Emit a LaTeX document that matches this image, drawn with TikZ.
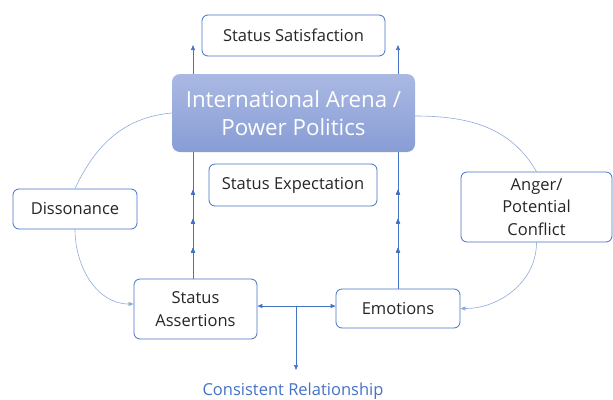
\documentclass[tikz,border=0pt]{standalone}
\usepackage{fontspec}
\setmainfont{Open Sans}
\usetikzlibrary{arrows.meta,decorations.markings}

\definecolor{edgeblue}{HTML}{4472C4}
\definecolor{curveblue}{HTML}{8FAADC}
\definecolor{arenatop}{HTML}{AAB9E3}
\definecolor{arenabot}{HTML}{889DD5}
\definecolor{txt}{HTML}{262626}

\begin{document}
\begin{tikzpicture}
          [x=1pt,y=-1pt,
           box/.style={draw=edgeblue,line width=0.8pt,rounded corners=6pt,fill=white,
             align=center,text=txt,font=\fontsize{16.5}{22.5}\selectfont,inner sep=2pt},
           link/.style={edgeblue,line width=0.6pt,-{Triangle[length=5pt,width=4pt]}},
           curve/.style={curveblue,line width=0.6pt},
           tip/.style={-{Triangle[length=5pt,width=4pt]}},
           midtips/.style={postaction={decorate},decoration={markings,
             mark=at position #1 with {\arrow{Triangle[length=5pt,width=4pt]}}}}]

          \useasboundingbox (0,0) rectangle (613,399);

          \node[box,minimum width=183pt,minimum height=41pt] (sat) at (293.5,35.5) {Status Satisfaction};
          \node[box,minimum width=168pt,minimum height=42pt] (exp) at (293,185) {Status Expectation};
          \node[box,minimum width=124pt,minimum height=40pt] (dis) at (75,209) {Dissonance};
          \node[box,minimum width=151pt,minimum height=70pt] (ang) at (536.5,207) {Anger/\\Potential\\Conflict};
          \node[box,minimum width=123pt,minimum height=60pt] (sa) at (195.5,309) {Status\\Assertions};
          \node[box,minimum width=124pt,minimum height=39pt] (emo) at (398,308.5) {Emotions};
          \node[text=edgeblue,font=\fontsize{16.5}{20}\selectfont] (cr) at (293,391) {Consistent Relationship};

          \coordinate (up1) at (193,45);
          \coordinate (up2) at (398,45);
          \coordinate (split) at (296,306);
          \coordinate (down) at (296,370);

          % the two upward chains pass behind the arena box
          \draw[link,midtips=0.132,midtips=0.256,midtips=0.38] (up1 |- sa.north) -- (up1);
          \draw[link,midtips=0.168,midtips=0.287,midtips=0.406] (emo.north) -- (up2);

          \node[rounded corners=8pt,top color=arenatop,bottom color=arenabot,
            minimum width=243pt,minimum height=78pt,align=center,text=white,
            font=\fontsize{22.3}{28.5}\selectfont] (arena) at (293.5,113) {International Arena /\\Power Politics};

          \draw[curve] (arena.west) to[out=185,in=65] (dis.north);
          \draw[curve,tip] (dis.south) to[out=-90,in=180] ([yshift=5pt]sa.west);
          \draw[curve] ([yshift=-3pt]arena.east) to[out=0,in=120] (ang.north);
          \draw[curve,tip] (ang.south) to[out=-90,in=0] (emo.east);

          \draw[link,{Triangle[length=5pt,width=4pt]}-{Triangle[length=5pt,width=4pt]}] ([yshift=3pt]sa.east) -- ([yshift=2.5pt]emo.west);
          \draw[link] (split) -- (down);
        \end{tikzpicture}
\end{document}
